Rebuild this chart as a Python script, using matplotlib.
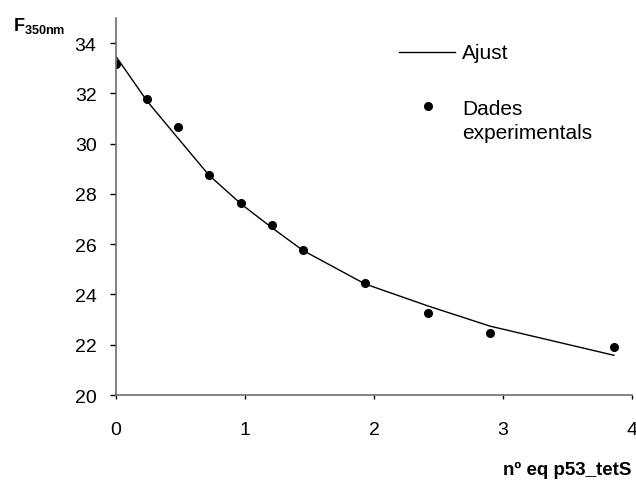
import numpy as np
import matplotlib
matplotlib.use('Agg')
from matplotlib import pyplot as plt
from matplotlib.lines import Line2D

plt.rcParams['font.family'] = ['Liberation Sans', 'DejaVu Sans']
plt.rcParams['mathtext.fontset'] = 'custom'
plt.rcParams['mathtext.bf'] = 'Liberation Sans:bold'
plt.rcParams['mathtext.rm'] = 'Liberation Sans'

# equivalents of p53_tetS added
eq = [0, 0.24, 0.48, 0.72, 0.97, 1.21, 1.45, 1.93, 2.42, 2.90, 3.86]
# measured fluorescence at 350 nm
f_exp = [33.18, 31.76, 30.66, 28.76, 27.65, 26.75, 25.75, 24.46, 23.26, 22.48, 21.92]
# fitted values at the same points
f_fit = [33.47, 31.70, 30.22, 28.75, 27.60, 26.65, 25.75, 24.42, 23.54, 22.74, 21.58]

yticks = [20, 22, 24, 26, 28, 30, 32, 34]
xticks = [0, 1, 2, 3, 4]

fig = plt.figure(figsize=(6.36, 4.81), dpi=100)
ax = fig.add_axes([0.1824, 0.1767, 0.8113, 0.7838])

ax.plot(eq, f_fit, color='black', lw=1.0)
ax.plot(eq, f_exp, 'o', color='black', ms=5.5)

ax.set_xlim(0, 4)
ax.set_ylim(20, 35)
ax.set_xticks(xticks)
ax.set_yticks(yticks)
ax.tick_params(axis='both', labelsize=14, direction='out', color='black', width=1)
ax.tick_params(axis='y', length=4, pad=10)
ax.tick_params(axis='x', length=3, pad=16)

for s in ['top', 'right']:
    ax.spines[s].set_visible(False)
for s in ['left', 'bottom']:
    ax.spines[s].set_color('#6e6e6e')
    ax.spines[s].set_linewidth(1.2)

# legend, drawn by hand so the dot sits beside the first line of its label
fig.add_artist(Line2D([0.6274, 0.7154], [0.8898, 0.8898], color='black', lw=1.0,
                      transform=fig.transFigure))
fig.text(0.7264, 0.8898, 'Ajust', fontsize=15, va='center')
fig.add_artist(Line2D([0.673], [0.7775], marker='o', color='black', ms=5.5,
                      transform=fig.transFigure))
fig.text(0.7264, 0.792, 'Dades\nexperimentals', fontsize=15, va='top',
         linespacing=1.3)

fig.text(0.02, 0.936, r'$\mathbf{F}_{\mathbf{350nm}}$', fontsize=13)
fig.text(0.992, 0.0125, 'nº eq p53_tetS', fontsize=13.5, fontweight='bold', ha='right')

fig.savefig('out.png', dpi=100)
